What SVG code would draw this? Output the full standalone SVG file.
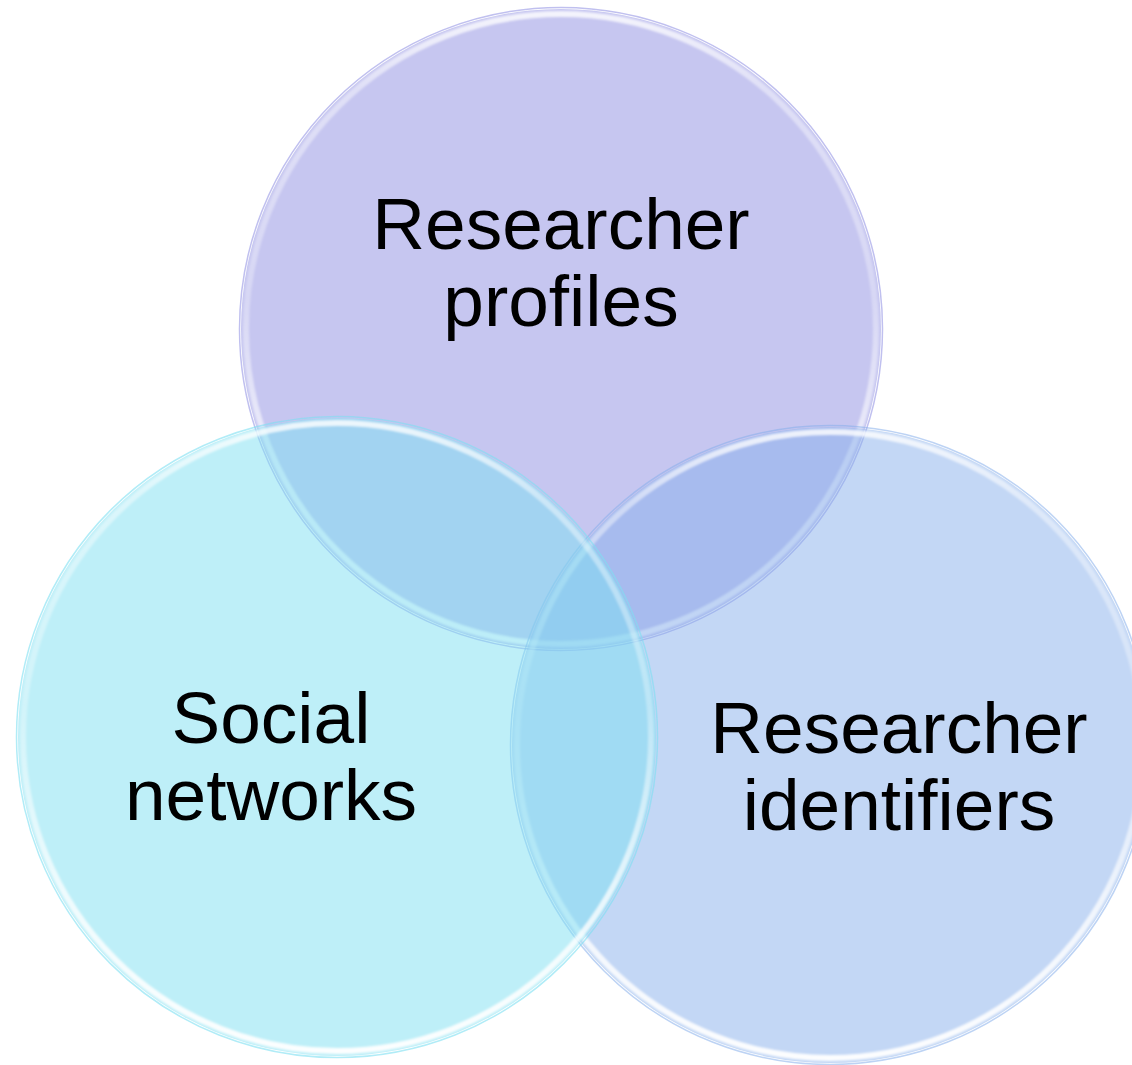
<svg xmlns="http://www.w3.org/2000/svg" width="1132" height="1065" viewBox="0 0 1132 1065">
  <style>
    .label { font-family: "Liberation Sans", Arial, sans-serif; font-size: 73px; fill: #000000; text-anchor: middle; }
    .fill-top { fill: #8D8DE1; fill-opacity: 0.5; }
    .fill-right { fill: #87AFEB; fill-opacity: 0.5; }
    .fill-left { fill: #7DDFF1; fill-opacity: 0.5; }
    .rim-top { fill: none; stroke: #8D8DE1; stroke-opacity: 0.55; stroke-width: 1.5; }
    .rim-right { fill: none; stroke: #87AFEB; stroke-opacity: 0.55; stroke-width: 1.5; }
    .rim-left { fill: none; stroke: #7DDFF1; stroke-opacity: 0.6; stroke-width: 1.5; }
    .gloss { fill: none; stroke: url(#glossGrad); stroke-width: 6; filter: url(#soft); }
  </style>
  <defs>
    <!-- white glass highlight running round the inside of each disc, strongest at the bottom -->
    <linearGradient id="glossGrad" x1="0" y1="0" x2="0" y2="1">
      <stop offset="0" stop-color="#FFFFFF" stop-opacity="0.8"/>
      <stop offset="0.12" stop-color="#FFFFFF" stop-opacity="0.45"/>
      <stop offset="0.45" stop-color="#FFFFFF" stop-opacity="0.3"/>
      <stop offset="0.75" stop-color="#FFFFFF" stop-opacity="0.75"/>
      <stop offset="1" stop-color="#FFFFFF" stop-opacity="0.95"/>
    </linearGradient>
    <filter id="soft" x="-5%" y="-5%" width="110%" height="110%">
      <feGaussianBlur stdDeviation="0.8"/>
    </filter>
  </defs>

  <!-- Researcher profiles (top) -->
  <g id="node-profiles">
    <circle class="fill-top" cx="561" cy="329" r="320"/>
    <circle class="gloss" cx="561" cy="329" r="315"/>
    <circle class="rim-top" cx="561" cy="329" r="321.5"/>
    <text class="label" x="561" y="249">Researcher</text>
    <text class="label" x="561" y="326">profiles</text>
  </g>

  <!-- Researcher identifiers (right) -->
  <g id="node-identifiers">
    <circle class="fill-right" cx="830" cy="745" r="318"/>
    <circle class="gloss" cx="830" cy="745" r="313"/>
    <circle class="rim-right" cx="830" cy="745" r="319.5"/>
    <text class="label" x="899" y="753">Researcher</text>
    <text class="label" x="899" y="830">identifiers</text>
  </g>

  <!-- Social networks (left) -->
  <g id="node-social">
    <circle class="fill-left" cx="337" cy="737" r="319"/>
    <circle class="gloss" cx="337" cy="737" r="314"/>
    <circle class="rim-left" cx="337" cy="737" r="320.5"/>
    <text class="label" x="271" y="743">Social</text>
    <text class="label" x="271" y="820">networks</text>
  </g>

  <!-- no connectors in this diagram -->
  <g id="connectors"/>
</svg>
